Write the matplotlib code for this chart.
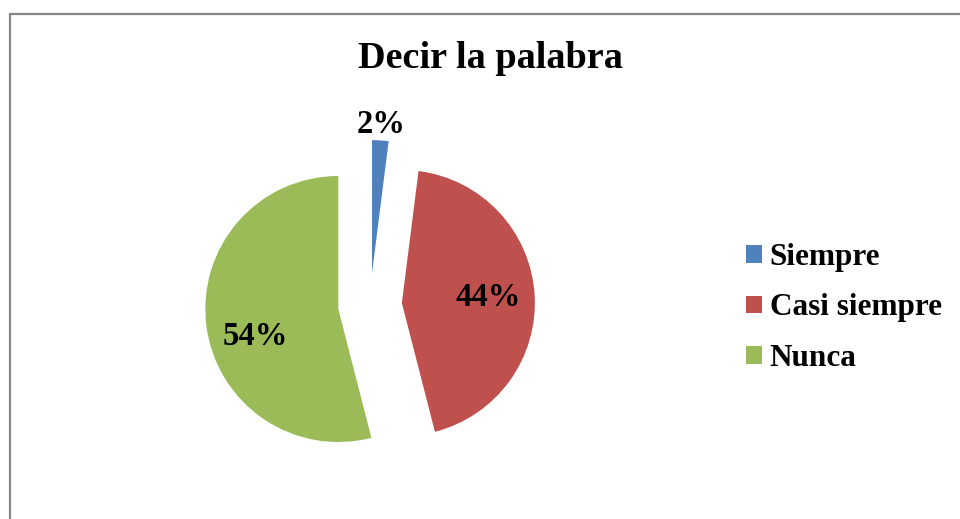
import matplotlib
matplotlib.use('Agg')
import matplotlib.pyplot as plt
import matplotlib.patches as mpatches
import numpy as np

# datos del grafico
categorias = ['Siempre', 'Casi siempre', 'Nunca']
valores = [2, 44, 54]
colores = ['#4F81BD', '#C0504D', '#9BBB59']
titulo = 'Decir la palabra'

plt.rcParams['font.family'] = ['Liberation Serif', 'DejaVu Serif']
plt.rcParams['font.weight'] = 'bold'

fig = plt.figure(figsize=(9.6, 5.19), dpi=100)

# marco gris alrededor del grafico (cortado a la derecha y abajo)
marco = mpatches.Rectangle((9.5 / 960, -0.2), 1.2, 1.2 - 14 / 519,
                           transform=fig.transFigure, fill=False,
                           edgecolor='#878787', linewidth=1.6)
fig.patches.append(marco)

ax = fig.add_axes([170.5 / 960, 14.5 / 519, 399 / 960, 399 / 519])
wedges, textos, autotextos = ax.pie(valores, colors=colores, startangle=90,
                                    counterclock=False, explode=[0.24] * 3,
                                    autopct='%d%%', pctdistance=0.65,
                                    textprops={'fontsize': 23.5, 'fontweight': 'bold'})
ax.set_xlim(-1.5, 1.5)
ax.set_ylim(-1.5, 1.5)
ax.set_aspect('equal')
ax.axis('off')

# la etiqueta pequena va fuera de su porcion
w = wedges[0]
ang = np.deg2rad((w.theta1 + w.theta2) / 2)
cx, cy = w.center
autotextos[0].set_position((cx + 1.12 * np.cos(ang), cy + 1.12 * np.sin(ang)))

# la etiqueta de "Nunca" un poco mas abajo, como en Excel
w = wedges[2]
ang = np.deg2rad((w.theta1 + w.theta2) / 2 + 11)
cx, cy = w.center
autotextos[2].set_position((cx + 0.66 * np.cos(ang), cy + 0.66 * np.sin(ang)))

fig.text(490 / 960, 1 - 58 / 519, titulo, ha='center', va='center',
         fontsize=27.5, fontweight='bold')

fig.legend(wedges, categorias, loc='center left',
           bbox_to_anchor=(718 / 960, 1 - 308 / 519), frameon=False,
           prop={'size': 22.5, 'weight': 'bold'}, handlelength=0.5,
           handleheight=0.5, handletextpad=0.25, labelspacing=0.68)

plt.savefig('out.png', dpi=100)
